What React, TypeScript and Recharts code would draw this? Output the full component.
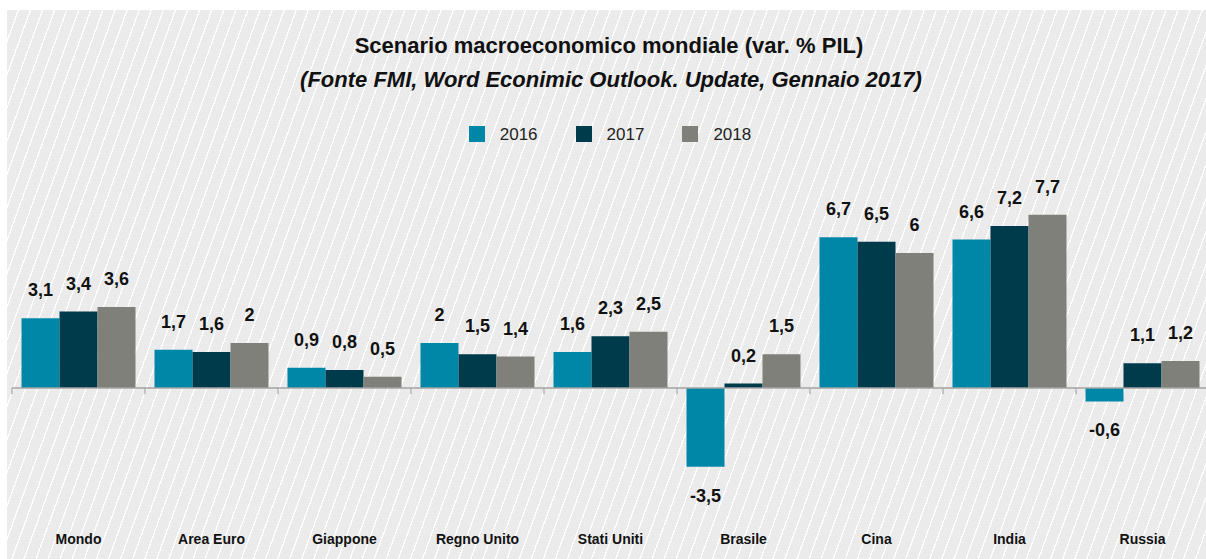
import React from 'react';
import { BarChart, Bar, XAxis, YAxis, ReferenceLine, LabelList, Legend } from 'recharts';

const categories = ['Mondo', 'Area Euro', 'Giappone', 'Regno Unito', 'Stati Uniti', 'Brasile', 'Cina', 'India', 'Russia'];
const values2016 = [3.1, 1.7, 0.9, 2, 1.6, -3.5, 6.7, 6.6, -0.6];
const values2017 = [3.4, 1.6, 0.8, 1.5, 2.3, 0.2, 6.5, 7.2, 1.1];
const values2018 = [3.6, 2, 0.5, 1.4, 2.5, 1.5, 6, 7.7, 1.2];
const seriesNames = ['2016', '2017', '2018'];
const seriesColors = ['#0087a7', '#003b4c', '#80807a'];

const data = categories.map((c, i) => ({
  name: c,
  '2016': values2016[i],
  '2017': values2017[i],
  '2018': values2018[i],
}));

const boundaries = categories.map((_, i) => i).concat([categories.length]);

const FONT = '"Liberation Sans", Arial, sans-serif';

const fmt = (v: any) => String(v).replace('.', ',');

const LegendContent = (props: any) => {
  const payload = props.payload || [];
  return (
    <div style={{ display: 'flex', justifyContent: 'center', height: 24, alignItems: 'center', fontFamily: FONT }}>
      {payload.map((p: any, i: number) => (
        <div key={i} style={{ display: 'flex', alignItems: 'center', marginRight: i < payload.length - 1 ? 38 : 0 }}>
          <div style={{ width: 16, height: 16, background: p.color, marginRight: 15 }} />
          <span style={{ fontSize: 17, color: '#222', lineHeight: '17px' }}>{p.value}</span>
        </div>
      ))}
    </div>
  );
};

export default function App() {
  return (
    <div style={{ position: 'absolute', left: 0, top: 0, width: 1206, height: 559, overflow: 'hidden', background: '#ffffff' }}>
      <div
        style={{
          position: 'absolute',
          left: 7,
          top: 10,
          right: 0,
          bottom: 0,
          background:
            'repeating-linear-gradient(110deg, #ebebeb 0px, #ebebeb 10.1px, #ffffff 10.1px, #ffffff 11.35px)',
        }}
      />
      <div
        style={{
          position: 'absolute',
          left: 0,
          top: 35.4,
          width: 1218,
          textAlign: 'center',
          fontFamily: FONT,
          fontWeight: 'bold',
          fontSize: 22,
          lineHeight: '22px',
          color: '#111',
          whiteSpace: 'nowrap',
        }}
      >
        Scenario macroeconomico mondiale (var. % PIL)
      </div>
      <div
        style={{
          position: 'absolute',
          left: 0,
          top: 69,
          width: 1222,
          textAlign: 'center',
          fontFamily: FONT,
          fontWeight: 'bold',
          fontStyle: 'italic',
          fontSize: 22,
          lineHeight: '22px',
          color: '#111',
          whiteSpace: 'nowrap',
        }}
      >
        (Fonte FMI, Word Econimic Outlook. Update, Gennaio 2017)
      </div>
      <div style={{ position: 'absolute', left: 0, top: 0 }}>
        <BarChart
          width={1215}
          height={559}
          data={data}
          margin={{ top: 161.5, right: 6, bottom: 6, left: 12 }}
          barCategoryGap={9.5}
          barGap={0}
        >
          <YAxis hide domain={[-6, 9]} allowDataOverflow />
          <XAxis
            dataKey="name"
            axisLine={false}
            tickLine={false}
            interval={0}
            tickMargin={5}
            tick={{ fontFamily: FONT, fontWeight: 'bold', fontSize: 14, fill: '#111' }}
          />
          <XAxis
            xAxisId="num"
            type="number"
            scale="linear"
            dataKey={(d: any) => categories.indexOf(d.name)}
            domain={[0, categories.length]}
            hide
            allowDataOverflow
          />
          <Legend verticalAlign="top" wrapperStyle={{ top: 122, left: 0, width: 1220 }} content={<LegendContent />} />
          <ReferenceLine y={0} stroke="#a3a3a3" strokeWidth={1.5} />
          {boundaries.map((b) => (
            <ReferenceLine
              key={b}
              xAxisId="num"
              segment={[{ x: b, y: 0 }, { x: b, y: -0.28 }]}
              stroke="#a3a3a3"
              strokeWidth={1.2}
              ifOverflow="visible"
            />
          ))}
          {seriesNames.map((s, i) => (
            <Bar key={s} dataKey={s} name={s} fill={seriesColors[i]} isAnimationActive={false}>
              <LabelList
                dataKey={s}
                position="top"
                offset={22}
                formatter={fmt}
                style={{ fontFamily: FONT, fontWeight: 'bold', fontSize: 18, fill: '#111' }}
              />
            </Bar>
          ))}
        </BarChart>
      </div>
    </div>
  );
}
